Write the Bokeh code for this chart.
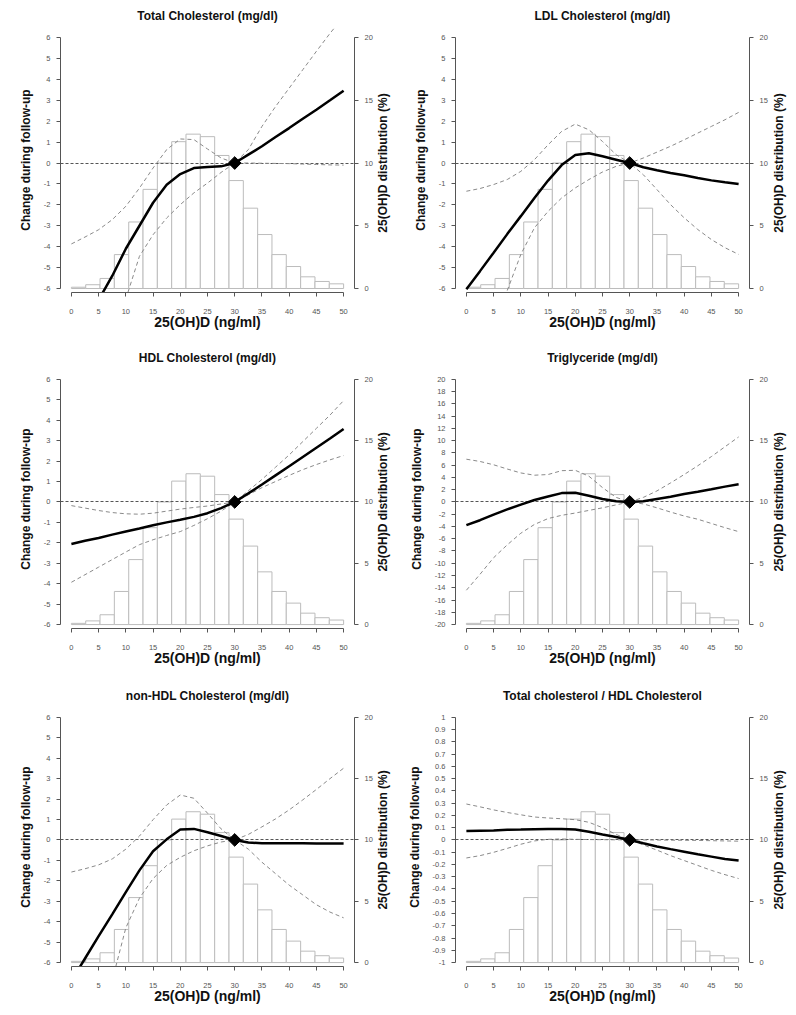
import math
from bokeh.plotting import figure
from bokeh.models import Range1d, LinearAxis, FixedTicker
from bokeh.core.properties import value
from bokeh.layouts import column, row
from bokeh.embed import file_html
from bokeh.resources import INLINE

nan = float("nan")

# ---------------- data ----------------
XS = [0, 2.5, 5, 7.5, 10, 12.5, 15, 17.5, 20, 22.5, 25, 27.5, 30,
      32.5, 35, 37.5, 40, 42.5, 45, 47.5, 50]

BIN_EDGES = [0, 2.63, 5.26, 7.89, 10.53, 13.16, 15.79, 18.42, 21.05, 23.68,
             26.32, 28.95, 31.58, 34.21, 36.84, 39.47, 42.11, 44.74, 47.37, 50]
DIST_PCT = [0.1, 0.3, 0.8, 2.7, 5.3, 7.9, 10.0, 11.7, 12.3, 12.1,
            10.6, 8.6, 6.4, 4.3, 2.7, 1.75, 0.93, 0.56, 0.37]

REF_X = [30]
REF_Y = [0]

X_TICKS = [0, 5, 10, 15, 20, 25, 30, 35, 40, 45, 50]
PCT_TICKS = [0, 5, 10, 15, 20]

CHOL_TICKS = [-6, -5, -4, -3, -2, -1, 0, 1, 2, 3, 4, 5, 6]
CHOL_LABELS = ["-6", "-5", "-4", "-3", "-2", "-1", "0", "1", "2", "3", "4", "5", "6"]
TG_TICKS = [-20, -18, -16, -14, -12, -10, -8, -6, -4, -2, 0,
            2, 4, 6, 8, 10, 12, 14, 16, 18, 20]
TG_LABELS = ["-20", "-18", "-16", "-14", "-12", "-10", "-8", "-6", "-4", "-2", "0",
             "2", "4", "6", "8", "10", "12", "14", "16", "18", "20"]
RATIO_TICKS = [-1, -0.9, -0.8, -0.7, -0.6, -0.5, -0.4, -0.3, -0.2, -0.1, 0,
               0.1, 0.2, 0.3, 0.4, 0.5, 0.6, 0.7, 0.8, 0.9, 1]
RATIO_LABELS = ["-1", "-0.9", "-0.8", "-0.7", "-0.6", "-0.5", "-0.4", "-0.3", "-0.2", "-0.1", "0",
                "0.1", "0.2", "0.3", "0.4", "0.5", "0.6", "0.7", "0.8", "0.9", "1"]

TITLES = ["Total Cholesterol (mg/dl)", "LDL Cholesterol (mg/dl)",
          "HDL Cholesterol (mg/dl)", "Triglyceride (mg/dl)",
          "non-HDL Cholesterol (mg/dl)", "Total cholesterol / HDL Cholesterol"]
Y_LABEL = "Change during follow-up"
X_LABEL = "25(OH)D (ng/ml)"
R_LABEL = "25(OH)D distribution (%)"

# Total cholesterol
tc_fit = [nan, nan, -6.55, -5.4, -4.1, -3.0, -1.9, -1.04, -0.53, -0.24, -0.19, -0.16, 0,
          0.4, 0.8, 1.24, 1.67, 2.12, 2.55, 3.0, 3.46]
tc_upper = [-3.87, -3.54, -3.19, -2.71, -2.07, -1.2, -0.24, 0.64, 1.15, 1.12, 0.67, 0.24, 0,
            0.64, 1.75, 2.7, 3.58, 4.46, 5.34, 6.2, 7.0]
tc_lower = [nan, nan, nan, nan, -6.5, -4.46, -3.43, -2.63, -1.99, -1.43, -0.96, -0.45, 0,
            0.0, -0.01, -0.02, -0.03, -0.05, -0.07, -0.09, -0.1]

# LDL
ldl_fit = [-6.04, -5.17, -4.29, -3.4, -2.54, -1.67, -0.84, -0.1, 0.38, 0.47, 0.32, 0.16, 0,
           -0.2, -0.35, -0.48, -0.59, -0.72, -0.83, -0.92, -1.0]
ldl_upper = [-1.35, -1.22, -1.03, -0.79, -0.4, 0.16, 0.87, 1.51, 1.86, 1.59, 1.03, 0.4, 0,
             0.24, 0.52, 0.8, 1.11, 1.43, 1.75, 2.07, 2.42]
ldl_lower = [nan, nan, nan, -6.1, -4.37, -3.1, -2.31, -1.67, -1.19, -0.79, -0.43, -0.16, 0,
             -0.56, -1.27, -1.99, -2.62, -3.18, -3.66, -4.05, -4.37]

# HDL
hdl_fit = [-2.06, -1.9, -1.76, -1.6, -1.45, -1.3, -1.14, -1.0, -0.87, -0.73, -0.55, -0.3, 0,
           0.42, 0.85, 1.3, 1.75, 2.2, 2.65, 3.1, 3.57]
hdl_upper = [-0.18, -0.3, -0.42, -0.52, -0.58, -0.6, -0.55, -0.45, -0.35, -0.27, -0.2, -0.1, 0,
             0.55, 1.1, 1.7, 2.3, 2.95, 3.6, 4.25, 4.96]
hdl_lower = [-3.93, -3.56, -3.19, -2.82, -2.45, -2.09, -1.85, -1.64, -1.45, -1.15, -0.82, -0.45, 0,
             0.35, 0.7, 1.0, 1.3, 1.58, 1.83, 2.06, 2.27]

# Triglyceride
tg_fit = [-3.78, -2.98, -2.07, -1.22, -0.43, 0.32, 0.9, 1.44, 1.49, 1.01, 0.48, 0.1, 0,
          0.1, 0.48, 0.85, 1.28, 1.65, 2.07, 2.5, 2.87]
tg_upper = [6.97, 6.6, 6.06, 5.37, 4.73, 4.36, 4.47, 5.1, 5.16, 4.2, 2.34, 0.74, 0,
            0.74, 1.8, 3.1, 4.47, 5.9, 7.4, 9.0, 10.6]
tg_lower = [-14.4, -11.8, -9.1, -7.0, -5.1, -3.67, -2.71, -2.18, -1.81, -1.38, -0.96, -0.48, 0,
            -0.32, -0.96, -1.65, -2.29, -2.82, -3.51, -4.2, -4.84]

# non-HDL
nhdl_fit = [-6.9, -5.8, -4.71, -3.64, -2.55, -1.49, -0.55, 0.03, 0.51, 0.54, 0.38, 0.19, 0,
            -0.13, -0.16, -0.16, -0.16, -0.16, -0.17, -0.17, -0.18]
nhdl_upper = [-1.57, -1.41, -1.22, -0.93, -0.45, 0.19, 0.99, 1.71, 2.2, 2.04, 1.31, 0.54, 0,
              0.27, 0.64, 1.03, 1.47, 1.96, 2.47, 3.0, 3.51]
nhdl_lower = [nan, nan, nan, -6.87, -4.3, -2.85, -1.89, -1.25, -0.85, -0.53, -0.29, -0.1, 0,
              -0.45, -1.09, -1.65, -2.21, -2.69, -3.17, -3.53, -3.81]

# Total cholesterol / HDL
ratio_fit = [0.072, 0.075, 0.077, 0.083, 0.085, 0.088, 0.09, 0.09, 0.085, 0.067, 0.045, 0.024, 0,
             -0.027, -0.053, -0.075, -0.096, -0.117, -0.136, -0.155, -0.168]
ratio_upper = [0.293, 0.27, 0.245, 0.224, 0.205, 0.187, 0.179, 0.173, 0.165, 0.144, 0.1, 0.045, 0,
               0.0, -0.001, -0.002, -0.003, -0.004, -0.006, -0.008, -0.01]
ratio_lower = [-0.147, -0.128, -0.101, -0.069, -0.035, -0.008, 0.005, 0.008, 0.005, 0.003, 0.002, 0.001, 0,
               -0.04, -0.083, -0.128, -0.168, -0.208, -0.248, -0.283, -0.315]

# ---------------- layout ----------------
FONT = "Liberation Sans"
COL_W = [397, 390]
COL_BL = [60, 58]
FRAME_W = 295
MAIN_BR = 20
R_LABEL_GAP = [27.5, 28.0]
ROW_H = [343, 338, 325]
ROW_BT = [27, 20, 21]
ROW_FH = [265, 265, 264]
X_LO = 0 - 0.04 * 50
X_HI = 50 + 0.04 * 50


def style_axis(ax):
    ax.axis_line_color = "#555555"
    ax.major_tick_line_color = "#555555"
    ax.major_tick_out = 4
    ax.major_tick_in = 0
    ax.minor_tick_line_color = None
    ax.major_label_text_font = FONT
    ax.major_label_text_font_size = "7.5px"
    ax.major_label_text_color = "#555555"
    ax.axis_label_text_font = FONT
    ax.axis_label_text_font_style = "bold"
    ax.axis_label_text_color = "#111111"
    ax.axis_label_text_font_size = "12px"


def panel(title, fit, lower, upper, yticks, ylabels, col, r):
    a, b = yticks[0], yticks[-1]
    span = b - a
    ylo = a - 0.016 * span
    yhi = b + 0.04 * span
    H = ROW_H[r]
    bl = COL_BL[col]
    bt = ROW_BT[r]
    fh = ROW_FH[r]
    bb = H - bt - fh
    W = bl + FRAME_W + MAIN_BR
    p = figure(width=W, height=H, x_range=Range1d(X_LO, X_HI), y_range=Range1d(ylo, yhi),
               x_axis_type=None, y_axis_type=None, output_backend="svg",
               toolbar_location=None, min_border_left=bl, min_border_right=MAIN_BR,
               min_border_top=bt, min_border_bottom=bb, title=title)
    p.outline_line_color = None
    p.background_fill_color = "white"
    p.border_fill_color = "white"
    p.title.align = "center"
    p.title.text_font = FONT
    p.title.text_font_size = "12px"
    p.title.text_font_style = "bold"
    p.title.text_color = "#111111"
    try:
        p.title.standoff = 10
    except AttributeError:
        pass

    plo = (ylo - a) / span * 20
    phi = (yhi - a) / span * 20
    p.extra_y_ranges = {"pct": Range1d(plo, phi)}

    # histogram
    p.quad(left=BIN_EDGES[:-1], right=BIN_EDGES[1:], bottom=0, top=DIST_PCT,
           y_range_name="pct", fill_color="white", line_color="#bcbcbc", line_width=1)
    # reference line
    p.hspan(y=REF_Y, line_color="#555555", line_width=1, line_dash="3 2")
    # CI
    p.line(XS, upper, line_color="#8a8a8a", line_width=1, line_dash="4 3")
    p.line(XS, lower, line_color="#8a8a8a", line_width=1, line_dash="4 3")
    # fit
    p.line(XS, fit, line_color="black", line_width=2.5)
    p.scatter(x=REF_X, y=REF_Y, marker="square", size=9, angle=45, angle_units="deg",
              fill_color="black", line_color="black")

    # axes
    xax = LinearAxis(ticker=FixedTicker(ticks=X_TICKS), bounds=(0, 50), axis_label=X_LABEL)
    style_axis(xax)
    xax.major_label_standoff = 12
    xax.axis_label_standoff = -3
    xax.axis_label_text_font_size = "14px"
    p.add_layout(xax, "below")

    yax = LinearAxis(ticker=FixedTicker(ticks=yticks), bounds=(a, b), axis_label=Y_LABEL,
                     major_label_overrides=dict(zip(yticks, ylabels)))
    style_axis(yax)
    yax.major_label_standoff = 6
    yax.axis_label_standoff = 8
    p.add_layout(yax, "left")

    rax = LinearAxis(y_range_name="pct", ticker=FixedTicker(ticks=PCT_TICKS), bounds=(0, 20))
    style_axis(rax)
    rax.major_label_standoff = 6
    p.add_layout(rax, "right")

    # narrow strip to the right carrying the right-axis title (reads bottom to top)
    sw = COL_W[col] - W
    s = figure(width=sw, height=H, x_range=Range1d(0, sw), y_range=Range1d(ylo, yhi),
               x_axis_type=None, y_axis_type=None, output_backend="svg",
               toolbar_location=None, min_border_left=0, min_border_right=0,
               min_border_top=bt, min_border_bottom=bb)
    s.outline_line_color = None
    s.background_fill_color = "white"
    s.border_fill_color = "white"
    s.text(x=[R_LABEL_GAP[col] - MAIN_BR], y=[(a + b) / 2], text=[R_LABEL],
           angle=90, angle_units="deg", text_align="center", text_baseline="middle",
           text_font=value(FONT), text_font_style="bold", text_font_size="12px",
           text_color="#111111")
    return [p, s]


r1 = panel(TITLES[0], tc_fit, tc_lower, tc_upper, CHOL_TICKS, CHOL_LABELS, 0, 0) + \
     panel(TITLES[1], ldl_fit, ldl_lower, ldl_upper, CHOL_TICKS, CHOL_LABELS, 1, 0)
r2 = panel(TITLES[2], hdl_fit, hdl_lower, hdl_upper, CHOL_TICKS, CHOL_LABELS, 0, 1) + \
     panel(TITLES[3], tg_fit, tg_lower, tg_upper, TG_TICKS, TG_LABELS, 1, 1)
r3 = panel(TITLES[4], nhdl_fit, nhdl_lower, nhdl_upper, CHOL_TICKS, CHOL_LABELS, 0, 2) + \
     panel(TITLES[5], ratio_fit, ratio_lower, ratio_upper, RATIO_TICKS, RATIO_LABELS, 1, 2)

layout = column(row(*r1), row(*r2), row(*r3))
open("out.html", "w").write(file_html(layout, INLINE))
